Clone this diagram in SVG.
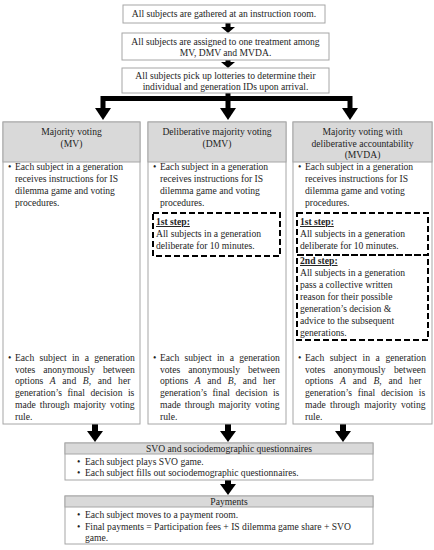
<svg xmlns="http://www.w3.org/2000/svg" width="434" height="550" viewBox="0 0 434 550">
<style>
.box{fill:#fff;stroke:#a6a6a6;stroke-width:1}
.hdr{fill:#d9d9d9;stroke:#a6a6a6;stroke-width:1}
.t{font-family:"Liberation Serif","Times New Roman",serif;font-size:9.6px;fill:#1e1e1e}
.c{text-anchor:middle}
.b{font-weight:bold;text-decoration:underline}
.dash{fill:none;stroke:#000;stroke-width:2;stroke-dasharray:6 3}
.ar{fill:#000}
.i{font-style:italic}
</style>
<rect width="434" height="550" fill="#fff"/>

<g id="connectors">
<path d="M228 92 V98.5 M100.5 98.5 H352.5 M103 98.5 V109 M228 98.5 V109 M350 98.5 V109" stroke="#000" stroke-width="5" fill="none"/>
<polygon class="ar" points="95,108 111,108 103,120"/>
<polygon class="ar" points="220,108 236,108 228,120"/>
<polygon class="ar" points="342,108 358,108 350,120"/>
<rect class="ar" x="225.5" y="23" width="5" height="4"/>
<polygon class="ar" points="221,27 235,27 228,33"/>
<rect class="ar" x="225.5" y="60" width="5" height="3"/>
<polygon class="ar" points="221,62 235,62 228,68"/>
<rect class="ar" x="92" y="424" width="6" height="7"/>
<polygon class="ar" points="87,431 103,431 95,442"/>
<rect class="ar" x="225" y="424" width="6" height="7"/>
<polygon class="ar" points="220,431 236,431 228,442"/>
<rect class="ar" x="340" y="424" width="6" height="7"/>
<polygon class="ar" points="335,431 351,431 343,442"/>
<rect class="ar" x="225" y="480" width="6" height="5"/>
<polygon class="ar" points="220,484 236,484 228,495"/>
</g>

<g id="gather">
<rect class="box" x="123" y="5" width="202" height="18"/>
<text class="t c" x="224" y="17">All subjects are gathered at an instruction room.</text>
</g>
<g id="assign">
<rect class="box" x="122" y="33" width="207" height="27"/>
<text class="t c" x="225.5" y="44.5">All subjects are assigned to one treatment among</text>
<text class="t c" x="225.5" y="56">MV, DMV and MVDA.</text>
</g>
<g id="lottery">
<rect class="box" x="122" y="68" width="207" height="25"/>
<text class="t c" x="225.5" y="78.5">All subjects pick up lotteries to determine their</text>
<text class="t c" x="225.5" y="90">individual and generation IDs upon arrival.</text>
</g>

<g id="mv">
<rect class="box" x="3" y="122" width="137" height="302"/>
<rect class="hdr" x="3" y="122" width="137" height="40"/>
<text class="t c" x="71.5" y="135">Majority voting</text>
<text class="t c" x="71.5" y="146.5">(MV)</text>
<text class="t" x="8" y="170">•</text>
<text class="t" x="15" y="170">Each subject in a generation</text>
<text class="t" x="15" y="182">receives instructions for IS</text>
<text class="t" x="15" y="194">dilemma game and voting</text>
<text class="t" x="15" y="206">procedures.</text>
<text class="t" x="8" y="361">•</text>
<text class="t" x="15" y="361" word-spacing="2.9">Each subject in a generation</text>
<text class="t" x="15" y="372.7" word-spacing="5.6">votes anonymously between</text>
<text class="t" x="15" y="384.4" word-spacing="4.2">options <tspan class="i">A</tspan> and <tspan class="i">B</tspan>, and her</text>
<text class="t" x="15" y="396.1" word-spacing="3.1">generation’s final decision is</text>
<text class="t" x="15" y="407.8" word-spacing="1.6">made through majority voting</text>
<text class="t" x="15" y="419.5">rule.</text>
</g>

<g id="dmv">
<rect class="box" x="148" y="122" width="138" height="302"/>
<rect class="hdr" x="148" y="122" width="138" height="40"/>
<text class="t c" x="217" y="135">Deliberative majority voting</text>
<text class="t c" x="217" y="146.5">(DMV)</text>
<text class="t" x="153" y="170">•</text>
<text class="t" x="160" y="170">Each subject in a generation</text>
<text class="t" x="160" y="182">receives instructions for IS</text>
<text class="t" x="160" y="194">dilemma game and voting</text>
<text class="t" x="160" y="206">procedures.</text>
<rect class="dash" x="153" y="213" width="127" height="43"/>
<text class="t b" x="156" y="225">1st step:</text>
<text class="t" x="156" y="237">All subjects in a generation</text>
<text class="t" x="156" y="249">deliberate for 10 minutes.</text>
<text class="t" x="153" y="361">•</text>
<text class="t" x="160" y="361" word-spacing="2.9">Each subject in a generation</text>
<text class="t" x="160" y="372.7" word-spacing="5.6">votes anonymously between</text>
<text class="t" x="160" y="384.4" word-spacing="4.2">options <tspan class="i">A</tspan> and <tspan class="i">B</tspan>, and her</text>
<text class="t" x="160" y="396.1" word-spacing="3.1">generation’s final decision is</text>
<text class="t" x="160" y="407.8" word-spacing="1.6">made through majority voting</text>
<text class="t" x="160" y="419.5">rule.</text>
</g>

<g id="mvda">
<rect class="box" x="293" y="122" width="139" height="302"/>
<rect class="hdr" x="293" y="122" width="139" height="40"/>
<text class="t c" x="362.5" y="135">Majority voting with</text>
<text class="t c" x="362.5" y="146.5">deliberative accountability</text>
<text class="t c" x="362.5" y="158">(MVDA)</text>
<text class="t" x="298" y="170">•</text>
<text class="t" x="305" y="170">Each subject in a generation</text>
<text class="t" x="305" y="182">receives instructions for IS</text>
<text class="t" x="305" y="194">dilemma game and voting</text>
<text class="t" x="305" y="206">procedures.</text>
<rect class="dash" x="297" y="213" width="131" height="42"/>
<text class="t b" x="300" y="225">1st step:</text>
<text class="t" x="300" y="237">All subjects in a generation</text>
<text class="t" x="300" y="249">deliberate for 10 minutes.</text>
<rect class="dash" x="297" y="255" width="131" height="85"/>
<text class="t b" x="300" y="264">2nd step:</text>
<text class="t" x="300" y="276">All subjects in a generation</text>
<text class="t" x="300" y="288">pass a collective written</text>
<text class="t" x="300" y="300">reason for their possible</text>
<text class="t" x="300" y="312">generation’s decision &amp;</text>
<text class="t" x="300" y="324">advice to the subsequent</text>
<text class="t" x="300" y="336">generations.</text>
<text class="t" x="298" y="361">•</text>
<text class="t" x="305" y="361" word-spacing="3.2">Each subject in a generation</text>
<text class="t" x="305" y="372.7" word-spacing="6.1">votes anonymously between</text>
<text class="t" x="305" y="384.4" word-spacing="4.4">options <tspan class="i">A</tspan> and <tspan class="i">B</tspan>, and her</text>
<text class="t" x="305" y="396.1" word-spacing="3.4">generation’s final decision is</text>
<text class="t" x="305" y="407.8" word-spacing="1.9">made through majority voting</text>
<text class="t" x="305" y="419.5">rule.</text>
</g>

<g id="svo">
<rect class="box" x="65" y="443" width="308" height="37"/>
<rect class="hdr" x="65" y="443" width="308" height="11"/>
<text class="t c" x="229" y="451.5">SVO and sociodemographic questionnaires</text>
<text class="t" x="77" y="465">•</text>
<text class="t" x="85" y="465">Each subject plays SVO game.</text>
<text class="t" x="77" y="476">•</text>
<text class="t" x="85" y="476">Each subject fills out sociodemographic questionnaires.</text>
</g>

<g id="payments">
<rect class="box" x="65" y="496" width="308" height="48"/>
<rect class="hdr" x="65" y="496" width="308" height="11"/>
<text class="t c" x="229" y="504.5">Payments</text>
<text class="t" x="77" y="518">•</text>
<text class="t" x="85" y="518">Each subject moves to a payment room.</text>
<text class="t" x="77" y="529.5">•</text>
<text class="t" x="85" y="529.5">Final payments = Participation fees + IS dilemma game share + SVO</text>
<text class="t" x="85" y="540.5">game.</text>
</g>
</svg>
